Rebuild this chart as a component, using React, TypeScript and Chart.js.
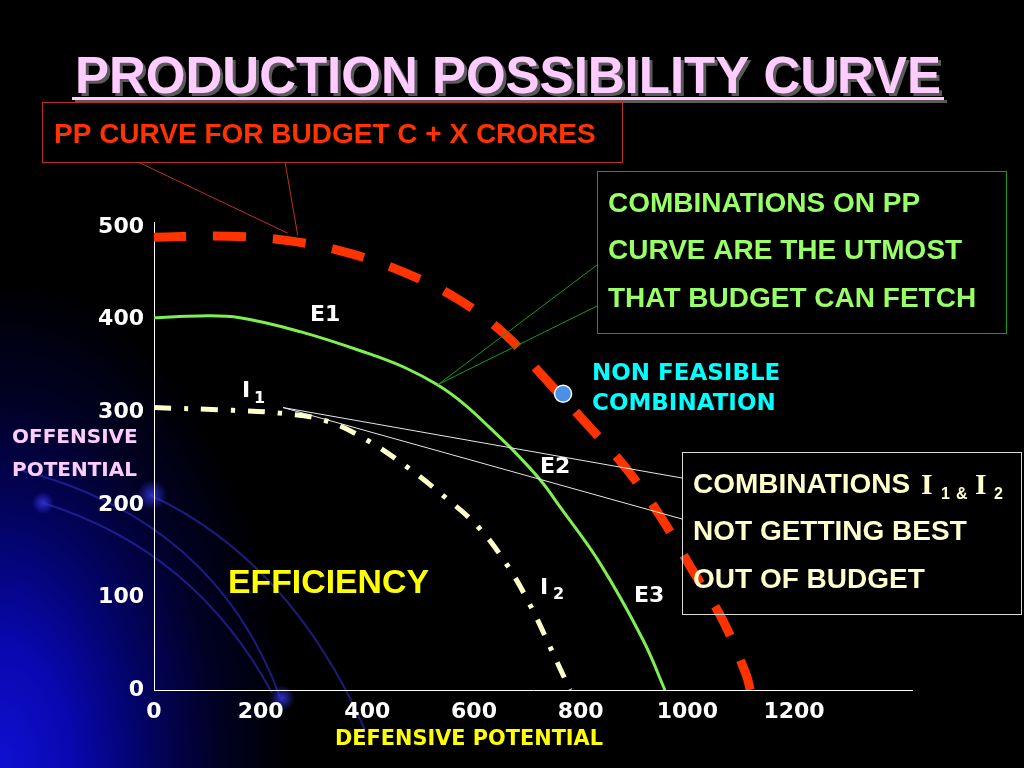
import React, { useEffect, useRef } from 'react';
import { Chart, registerables } from 'chart.js';

Chart.register(...registerables);

// ---- data ----
const X_TICKS = [0, 200, 400, 600, 800, 1000, 1200];
const Y_TICKS = [0, 100, 200, 300, 400, 500];

// PP curve for budget C + X crores (red dashed)
const PP_X = [0, 142, 255, 364, 469, 570, 662, 729, 812, 883, 949, 1009, 1065, 1110, 1118];
const PP_Y = [489, 490, 485, 472, 451, 422, 382, 339, 287, 241, 188, 130, 77, 17, 0];

// Efficient combinations E1-E2-E3 (green)
const E_X = [0, 86, 161, 274, 399, 471, 533, 583, 630, 673, 724, 761, 836, 917, 958];
const E_Y = [402, 404, 402, 387, 364, 348, 329, 308, 283, 259, 227, 198, 137, 54, 0];

// Inefficient combinations I1-I2 (dash-dot)
const I_X = [0, 148, 236, 321, 399, 474, 542, 608, 662, 705, 743, 780];
const I_Y = [305, 302, 299, 291, 270, 241, 210, 176, 135, 92, 46, 0];

// Non feasible combination (blue dot)
const NF_X = [767];
const NF_Y = [320];

// callout anchor points (data space)
const PP_NOTE_AT = { x: 262, y: 489 };
const E_NOTE_AT = { x: 533, y: 330 };
const I_NOTE_AT = { x: 242, y: 305 };

const toPts = (xs: number[], ys: number[]) => xs.map((x, i) => ({ x, y: ys[i] }));

const SANS = '"Liberation Sans", Arial, sans-serif';
const VERD = '"DejaVu Sans", Verdana, sans-serif';
const SERIF = '"Liberation Serif", "Times New Roman", serif';

function txt(ctx: CanvasRenderingContext2D, s: string, x: number, y: number, font: string, color: string, align: CanvasTextAlign = 'left', maxWidth?: number) {
  ctx.font = font;
  ctx.fillStyle = color;
  ctx.textAlign = align;
  ctx.textBaseline = 'alphabetic';
  if (maxWidth) ctx.fillText(s, x, y, maxWidth);
  else ctx.fillText(s, x, y);
}

function line(ctx: CanvasRenderingContext2D, x1: number, y1: number, x2: number, y2: number, color: string, w = 1) {
  ctx.beginPath();
  ctx.moveTo(x1, y1);
  ctx.lineTo(x2, y2);
  ctx.strokeStyle = color;
  ctx.lineWidth = w;
  ctx.setLineDash([]);
  ctx.stroke();
}

const decor = {
  id: 'decor',
  beforeDraw(chart: any) {
    const { ctx, width, height } = chart;
    ctx.save();
    ctx.fillStyle = '#000';
    ctx.fillRect(0, 0, width, height);
    // blue glow in the lower-left corner
    ctx.save();
    ctx.translate(0, height);
    ctx.scale(1, 1.7);
    const g = ctx.createRadialGradient(0, 0, 0, 0, 0, 290);
    g.addColorStop(0, 'rgb(16,16,210)');
    g.addColorStop(0.25, 'rgb(8,8,175)');
    g.addColorStop(0.5, 'rgb(3,3,100)');
    g.addColorStop(0.75, 'rgb(1,1,36)');
    g.addColorStop(1, 'rgb(0,0,0)');
    ctx.fillStyle = g;
    ctx.fillRect(0, -height, 420, height);
    ctx.restore();
    // faint decorative arcs
    ctx.strokeStyle = 'rgba(40,40,170,0.7)';
    ctx.lineWidth = 2;
    const arcs = [
      [43, 503, 195, 550, 272, 693],
      [20, 470, 215, 520, 280, 697],
      [150, 495, 290, 560, 365, 730],
    ];
    arcs.forEach(a => {
      ctx.beginPath();
      ctx.moveTo(a[0], a[1]);
      ctx.quadraticCurveTo(a[2], a[3], a[4], a[5]);
      ctx.stroke();
    });
    const glows = [[43, 503, 11], [152, 495, 15], [282, 698, 13]];
    glows.forEach(([x, y, r]) => {
      const gg = ctx.createRadialGradient(x, y, 0, x, y, r);
      gg.addColorStop(0, 'rgba(50,50,220,0.9)');
      gg.addColorStop(1, 'rgba(50,50,220,0)');
      ctx.fillStyle = gg;
      ctx.beginPath();
      ctx.arc(x, y, r, 0, Math.PI * 2);
      ctx.fill();
    });
    ctx.restore();
  },
  afterDatasetsDraw(chart: any) {
    const { ctx } = chart;
    const xs = chart.scales.x;
    const ys = chart.scales.y;
    const px = (p: { x: number; y: number }) => [xs.getPixelForValue(p.x), ys.getPixelForValue(p.y)];
    ctx.save();

    // Title with shadow + underline
    const tf = `bold 51px ${SANS}`;
    txt(ctx, 'PRODUCTION POSSIBILITY CURVE', 511, 96, tf, '#5a5a5a', 'center', 866);
    ctx.fillStyle = '#5a5a5a';
    ctx.fillRect(75, 100, 872, 3);
    txt(ctx, 'PRODUCTION POSSIBILITY CURVE', 508, 93, tf, '#ffccff', 'center', 866);
    ctx.fillStyle = '#ffccff';
    ctx.fillRect(72, 97, 872, 3);

    // Red note box
    ctx.strokeStyle = '#b8301c';
    ctx.lineWidth = 1;
    ctx.strokeRect(42.5, 102.5, 580, 60);
    txt(ctx, 'PP CURVE FOR BUDGET C + X CRORES', 54, 143, `bold 28px ${SANS}`, '#ff3300', 'left', 548);
    const [rx, ry] = px(PP_NOTE_AT);
    line(ctx, 138, 162, rx - 6, ry - 4, '#c0321e');
    line(ctx, 285, 162, rx + 4, ry - 2, '#c0321e');

    // Green note box
    ctx.strokeStyle = '#1a9a1a';
    ctx.lineWidth = 1;
    ctx.strokeRect(597.5, 171.5, 409, 162);
    const gf = `bold 28px ${SANS}`;
    txt(ctx, 'COMBINATIONS ON PP', 608, 212, gf, '#99ff66');
    txt(ctx, 'CURVE ARE THE UTMOST', 608, 259, gf, '#99ff66');
    txt(ctx, 'THAT BUDGET CAN FETCH', 608, 307, gf, '#99ff66', 'left', 373);
    const [gx, gy] = px(E_NOTE_AT);
    line(ctx, 597, 265, gx, gy, '#159a15');
    line(ctx, 597, 306, gx, gy, '#159a15');

    // White note box
    ctx.strokeStyle = '#dcdcdc';
    ctx.lineWidth = 1;
    ctx.strokeRect(682.5, 452.5, 339, 162);
    const wf = `bold 28px ${SANS}`;
    const cream = '#ffffcc';
    txt(ctx, 'COMBINATIONS', 693, 493, wf, cream, 'left', 220);
    txt(ctx, 'I', 921, 494, `bold 30px ${SERIF}`, cream);
    txt(ctx, '1', 941, 499, `bold 16px ${SANS}`, cream);
    txt(ctx, '&', 956, 499, `bold 16px ${SANS}`, cream);
    txt(ctx, 'I', 975, 494, `bold 30px ${SERIF}`, cream);
    txt(ctx, '2', 994, 499, `bold 16px ${SANS}`, cream);
    txt(ctx, 'NOT GETTING BEST', 693, 540, wf, cream);
    txt(ctx, 'OUT OF BUDGET', 693, 588, wf, cream);
    const [ix, iy] = px(I_NOTE_AT);
    line(ctx, ix, iy, 682, 478, '#e6e6e6');
    line(ctx, ix, iy, 682, 519, '#e6e6e6');

    // Non feasible label
    const cf = `bold 23px ${VERD}`;
    txt(ctx, 'NON FEASIBLE', 592, 380, cf, '#00ffff', 'left', 190);
    txt(ctx, 'COMBINATION', 592, 410, cf, '#00ffff', 'left', 193);

    // point labels
    const lf = `bold 22px ${VERD}`;
    txt(ctx, 'E1', 310, 321, lf, '#ffffff');
    txt(ctx, 'E2', 540, 473, lf, '#ffffff');
    txt(ctx, 'E3', 634, 602, lf, '#ffffff');
    txt(ctx, 'I', 242, 397, lf, '#ffffff');
    txt(ctx, '1', 254, 403, `bold 16px ${VERD}`, '#ffffff');
    txt(ctx, 'I', 540, 594, lf, '#ffffff');
    txt(ctx, '2', 553, 599, `bold 16px ${VERD}`, '#ffffff');

    // area label
    txt(ctx, 'EFFICIENCY', 228, 593, `bold 34px ${SANS}`, '#ffff00', 'left', 201);

    // axis titles
    txt(ctx, 'OFFENSIVE', 12, 443, `bold 20px ${VERD}`, '#ffccff', 'left', 127);
    txt(ctx, 'POTENTIAL', 12, 476, `bold 20px ${VERD}`, '#ffccff', 'left', 128);
    txt(ctx, 'DEFENSIVE POTENTIAL', 335, 745, `bold 21px ${VERD}`, '#ffff00', 'left', 268);

    ctx.restore();
  },
};

export default function App() {
  const ref = useRef<HTMLCanvasElement>(null);
  useEffect(() => {
    const canvas = ref.current;
    if (!canvas) return;
    const tickFont = { family: '"DejaVu Sans", Verdana, sans-serif', size: 22, weight: 'bold' as const };
    const chart = new Chart(canvas, {
      type: 'scatter',
      data: {
        datasets: [
          {
            label: 'Non feasible',
            data: toPts(NF_X, NF_Y),
            showLine: false,
            pointRadius: 8.5,
            pointBackgroundColor: '#4a90e8',
            pointBorderColor: '#ffffff',
            pointBorderWidth: 1.5,
            order: 0,
          },
          {
            label: 'PP curve',
            data: toPts(PP_X, PP_Y),
            showLine: true,
            borderColor: '#ff3300',
            borderWidth: 9,
            borderDash: [33, 27],
            borderDashOffset: 1,
            borderCapStyle: 'butt',
            pointRadius: 0,
            tension: 0.4,
            clip: 0,
            order: 1,
          },
          {
            label: 'E',
            data: toPts(E_X, E_Y),
            showLine: true,
            borderColor: '#80f050',
            borderWidth: 3,
            pointRadius: 0,
            tension: 0.4,
            clip: 0,
            order: 2,
          },
          {
            label: 'I',
            data: toPts(I_X, I_Y),
            showLine: true,
            borderColor: '#ffffcc',
            borderWidth: 5,
            borderDash: [17, 13, 4, 13],
            borderCapStyle: 'butt',
            pointRadius: 0,
            tension: 0.4,
            clip: 0,
            order: 3,
          },
        ] as any,
      },
      options: {
        animation: false,
        responsive: false,
        maintainAspectRatio: false,
        devicePixelRatio: 1,
        events: [],
        layout: { padding: { left: 0, top: 222, right: 112, bottom: 0 } },
        plugins: { legend: { display: false }, tooltip: { enabled: false }, title: { display: false } },
        scales: {
          x: {
            type: 'linear',
            min: 0,
            max: 1421.25,
            afterBuildTicks: (s: any) => { s.ticks = X_TICKS.map(v => ({ value: v })); },
            afterFit: (s: any) => { s.height = 78; },
            grid: { color: 'rgba(0,0,0,0)', drawTicks: false },
            border: { display: true, color: '#ffffff', width: 1 },
            ticks: { color: '#ffffff', font: tickFont, padding: 9, maxRotation: 0, autoSkip: false, callback: (v: any) => String(v) },
          },
          y: {
            type: 'linear',
            min: 0,
            max: 505.4,
            afterBuildTicks: (s: any) => { s.ticks = Y_TICKS.map(v => ({ value: v })); },
            afterFit: (s: any) => { s.width = 154; },
            grid: { color: 'rgba(0,0,0,0)', drawTicks: false },
            border: { display: true, color: '#ffffff', width: 1 },
            ticks: { color: '#ffffff', font: tickFont, padding: 10, autoSkip: false, callback: (v: any) => String(v) },
          },
        },
      } as any,
      plugins: [decor as any],
    });
    return () => chart.destroy();
  }, []);
  return (
    <div style={{ position: 'fixed', left: 0, top: 0, width: 1024, height: 768, background: '#000', overflow: 'hidden' }}>
      <canvas ref={ref} width={1024} height={768} style={{ display: 'block', width: 1024, height: 768 }} />
    </div>
  );
}
